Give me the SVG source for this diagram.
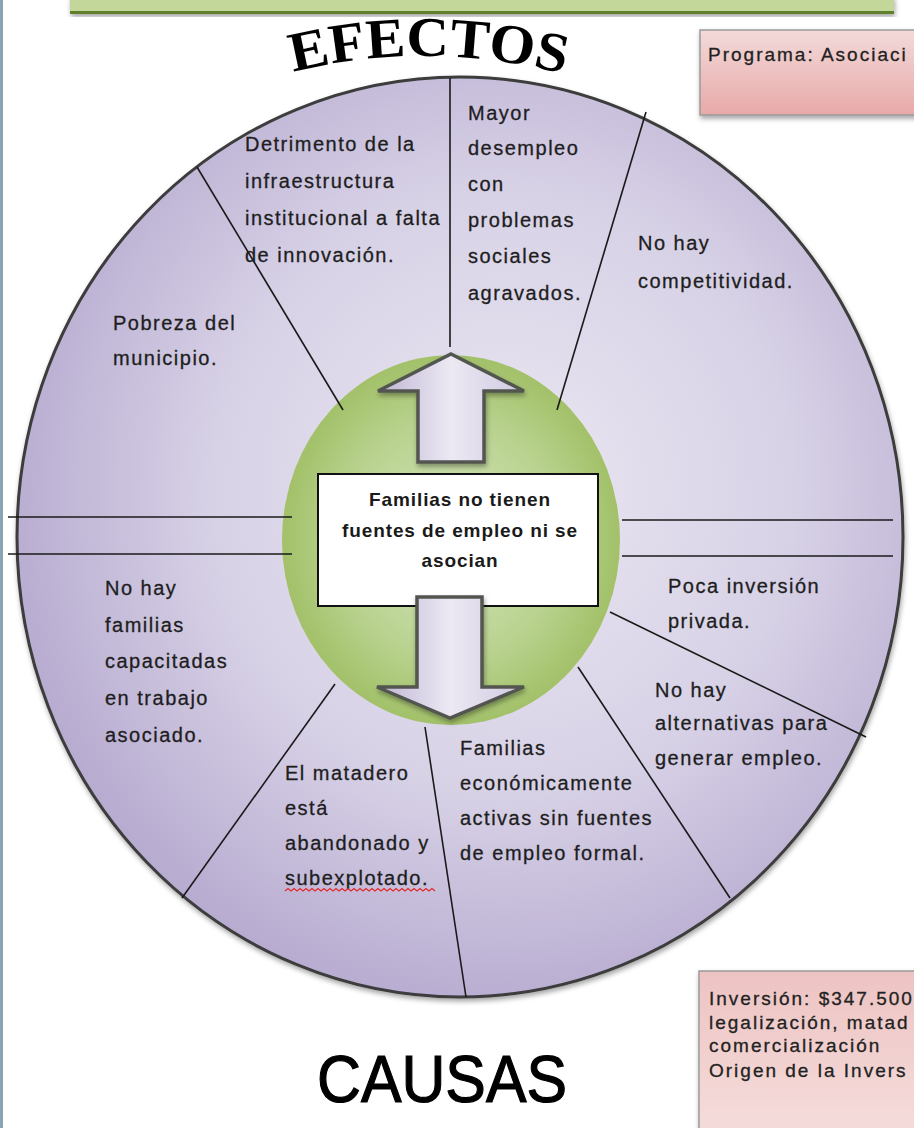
<svg xmlns="http://www.w3.org/2000/svg" width="914" height="1128" viewBox="0 0 914 1128">
<defs>
  <radialGradient id="gBig" cx="0.55" cy="0.45" r="0.6">
    <stop offset="0" stop-color="#ebe8f2"/>
    <stop offset="0.55" stop-color="#d7d1e6"/>
    <stop offset="1" stop-color="#b3a6cd"/>
  </radialGradient>
  <radialGradient id="gGreen" cx="0.5" cy="0.5" r="0.55">
    <stop offset="0" stop-color="#d6e5be"/>
    <stop offset="0.6" stop-color="#b8d28e"/>
    <stop offset="1" stop-color="#9cbc5e"/>
  </radialGradient>
  <linearGradient id="gArrow" x1="0" y1="0" x2="1" y2="0">
    <stop offset="0" stop-color="#bfb4d5"/>
    <stop offset="0.5" stop-color="#ece9f3"/>
    <stop offset="1" stop-color="#cfc8e0"/>
  </linearGradient>
  <linearGradient id="gPink" x1="0" y1="0" x2="0" y2="1">
    <stop offset="0" stop-color="#f3dada"/>
    <stop offset="1" stop-color="#e7a9a8"/>
  </linearGradient>
  <linearGradient id="gPink2" x1="0" y1="0" x2="0" y2="1">
    <stop offset="0" stop-color="#edc3c2"/>
    <stop offset="1" stop-color="#f5dedd"/>
  </linearGradient>
  <filter id="shadow" x="-10%" y="-10%" width="120%" height="125%">
    <feDropShadow dx="1" dy="3" stdDeviation="2.5" flood-color="#000" flood-opacity="0.35"/>
  </filter>
  <path id="arcE" d="M 293 72 Q 430 38 572 76"/>
  <style>
    .lbl { font-family: "Liberation Sans", Arial, sans-serif; font-size: 20px; letter-spacing: 1.5px; fill: #1e1e1e; stroke: #1e1e1e; stroke-width: 0.3px; }
    .ctr { font-family: "Liberation Sans", Arial, sans-serif; font-size: 19px; font-weight: bold; letter-spacing: 0.9px; fill: #1a1a1a; text-anchor: middle; }
    .box { font-family: "Liberation Sans", Arial, sans-serif; font-size: 19px; letter-spacing: 2px; fill: #222; stroke: #222; stroke-width: 0.3px; }
    .div { stroke: #1a1a1a; stroke-width: 1.6; fill: none; }
    .arrow { fill: url(#gArrow); stroke: #535650; stroke-width: 3.5; stroke-linejoin: miter; filter: url(#shadow); }
    .pink { stroke: #9a9a9a; stroke-width: 1.5; filter: url(#shadow); }
    .ttlE { font-family: "Liberation Serif", "Times New Roman", serif; font-weight: bold; font-size: 56px; fill: #000; }
    .ttlC { font-family: "Liberation Sans", Arial, sans-serif; font-size: 66px; fill: #000; stroke: #000; stroke-width: 1.2px; }
  </style>
</defs>

<rect x="0" y="0" width="914" height="1128" fill="#ffffff"/>
<rect x="0" y="0" width="3" height="1128" fill="#86a7b2"/>

<g id="header" filter="url(#shadow)">
  <rect x="70" y="-4" width="824" height="16" fill="#c4d79b"/>
  <rect x="70" y="11" width="824" height="3" fill="#5e7f2c"/>
</g>

<g id="efectos-title">
  <text class="ttlE"><textPath href="#arcE" textLength="274" lengthAdjust="spacingAndGlyphs">EFECTOS</textPath></text>
</g>

<g id="box-programa">
  <rect class="pink" x="700" y="30" width="230" height="85" fill="url(#gPink)"/>
  <text class="box" x="708" y="61">Programa: Asociaci</text>
</g>

<g id="box-inversion">
  <rect class="pink" x="699" y="971" width="230" height="170" fill="url(#gPink2)"/>
  <text class="box" x="709" y="1005">Inversión: $347.500</text>
  <text class="box" x="709" y="1029">legalización, matad</text>
  <text class="box" x="709" y="1052">comercialización</text>
  <text class="box" x="709" y="1077">Origen de la Invers</text>
</g>

<g id="outer-circle">
  <ellipse cx="460" cy="537" rx="443" ry="460" fill="url(#gBig)" stroke="#3c3c3c" stroke-width="3" filter="url(#shadow)"/>
</g>

<g id="center-ring">
  <ellipse cx="451" cy="540" rx="169" ry="185" fill="url(#gGreen)"/>
</g>

<g id="connectors">
  <line class="div" x1="450" y1="78" x2="450" y2="347"/>
  <line class="div" x1="197" y1="167" x2="343" y2="410"/>
  <line class="div" x1="646" y1="112" x2="557" y2="410"/>
  <line class="div" x1="8" y1="517" x2="292" y2="517"/>
  <line class="div" x1="8" y1="554" x2="292" y2="554"/>
  <line class="div" x1="622" y1="520" x2="893" y2="520"/>
  <line class="div" x1="622" y1="556" x2="893" y2="556"/>
  <line class="div" x1="610" y1="612" x2="866" y2="737"/>
  <line class="div" x1="578" y1="667" x2="730" y2="898"/>
  <line class="div" x1="425" y1="727" x2="466" y2="997"/>
  <line class="div" x1="335" y1="684" x2="182" y2="898"/>
  <polygon id="arrow-up" class="arrow" points="451,354 524,391 484,391 484,462 418,462 418,391 378,391"/>
</g>

<g id="center-problem">
  <rect x="318" y="474" width="280" height="132" fill="#ffffff" stroke="#111" stroke-width="2"/>
  <text class="ctr" x="460" y="506">Familias no tienen</text>
  <text class="ctr" x="460" y="537">fuentes de empleo ni se</text>
  <text class="ctr" x="460" y="567">asocian</text>
</g>

<g id="arrow-down-group">
  <polygon id="arrow-down" class="arrow" points="417,597 482,597 482,687 524,687 450,718 377,687 417,687"/>
</g>

<g id="effect-detrimento">
  <text class="lbl" x="245" y="151">Detrimento de la</text>
  <text class="lbl" x="245" y="188">infraestructura</text>
  <text class="lbl" x="245" y="225">institucional a falta</text>
  <text class="lbl" x="245" y="262">de innovación.</text>
</g>

<g id="effect-desempleo">
  <text class="lbl" x="468" y="120">Mayor</text>
  <text class="lbl" x="468" y="155">desempleo</text>
  <text class="lbl" x="468" y="191">con</text>
  <text class="lbl" x="468" y="227">problemas</text>
  <text class="lbl" x="468" y="263">sociales</text>
  <text class="lbl" x="468" y="300">agravados.</text>
</g>

<g id="effect-competitividad">
  <text class="lbl" x="638" y="250">No hay</text>
  <text class="lbl" x="638" y="288">competitividad.</text>
</g>

<g id="effect-pobreza">
  <text class="lbl" x="113" y="330">Pobreza del</text>
  <text class="lbl" x="113" y="365">municipio.</text>
</g>

<g id="cause-capacitadas">
  <text class="lbl" x="105" y="595">No hay</text>
  <text class="lbl" x="105" y="632">familias</text>
  <text class="lbl" x="105" y="668">capacitadas</text>
  <text class="lbl" x="105" y="705">en trabajo</text>
  <text class="lbl" x="105" y="742">asociado.</text>
</g>

<g id="cause-inversion">
  <text class="lbl" x="668" y="593">Poca inversión</text>
  <text class="lbl" x="668" y="628">privada.</text>
</g>

<g id="cause-alternativas">
  <text class="lbl" x="655" y="697">No hay</text>
  <text class="lbl" x="655" y="730">alternativas para</text>
  <text class="lbl" x="655" y="765">generar empleo.</text>
</g>

<g id="cause-familias-activas">
  <text class="lbl" x="460" y="755">Familias</text>
  <text class="lbl" x="460" y="790">económicamente</text>
  <text class="lbl" x="460" y="825">activas sin fuentes</text>
  <text class="lbl" x="460" y="860">de empleo formal.</text>
</g>

<g id="cause-matadero">
  <text class="lbl" x="285" y="780">El matadero</text>
  <text class="lbl" x="285" y="815">está</text>
  <text class="lbl" x="285" y="850">abandonado y</text>
  <text class="lbl" x="285" y="885">subexplotado.</text>
  <path d="M285 891 l3 -2.5 l3 2.5 l3 -2.5 l3 2.5 l3 -2.5 l3 2.5 l3 -2.5 l3 2.5 l3 -2.5 l3 2.5 l3 -2.5 l3 2.5 l3 -2.5 l3 2.5 l3 -2.5 l3 2.5 l3 -2.5 l3 2.5 l3 -2.5 l3 2.5 l3 -2.5 l3 2.5 l3 -2.5 l3 2.5 l3 -2.5 l3 2.5 l3 -2.5 l3 2.5 l3 -2.5 l3 2.5 l3 -2.5 l3 2.5 l3 -2.5 l3 2.5 l3 -2.5 l3 2.5 l3 -2.5 l3 2.5 l3 -2.5 l3 2.5 l3 -2.5 l3 2.5 l3 -2.5 l3 2.5 l3 -2.5 l3 2.5 l3 -2.5 l3 2.5 l3 -2.5 l3 2.5" fill="none" stroke="#e02a2a" stroke-width="1.2"/>
</g>

<g id="causas-title">
  <text class="ttlC" x="317" y="1102" textLength="250" lengthAdjust="spacingAndGlyphs">CAUSAS</text>
</g>
</svg>
